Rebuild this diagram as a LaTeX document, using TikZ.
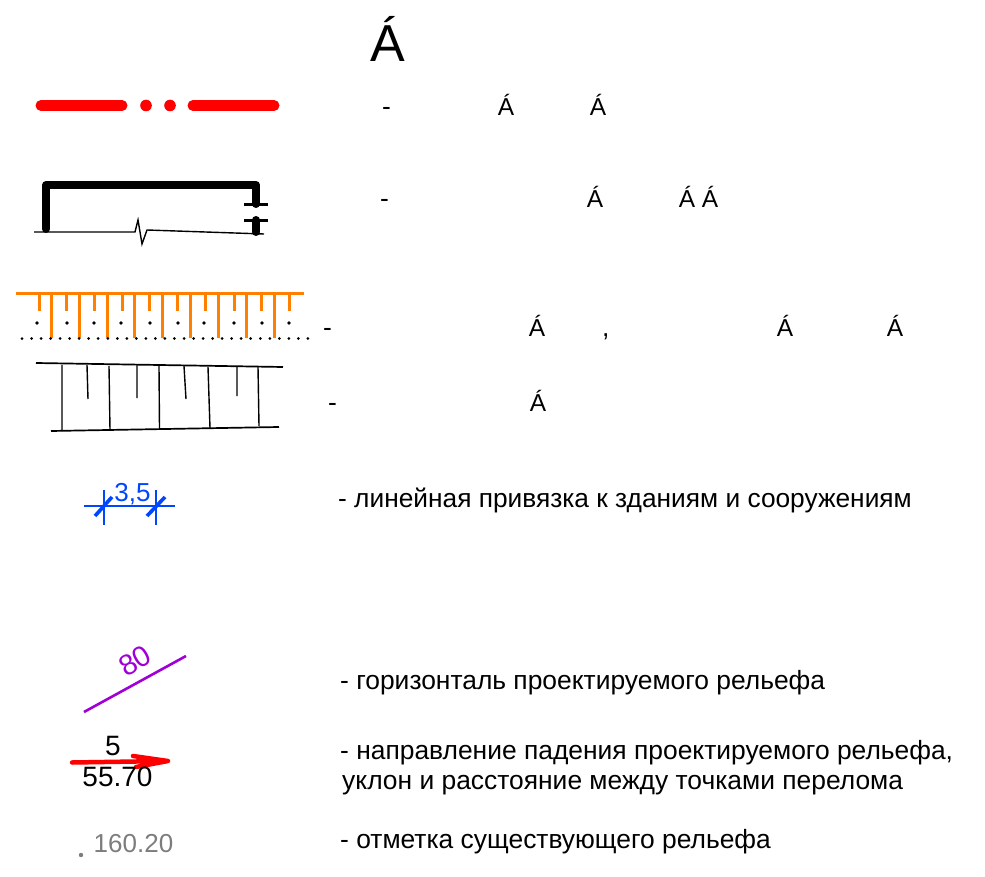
\documentclass[tikz,border=0pt]{standalone}
\usepackage{fontspec}
\setmainfont{Liberation Sans}
\definecolor{myorange}{RGB}{255,128,0}
\definecolor{myblue}{RGB}{0,70,255}
\definecolor{mypurple}{RGB}{160,0,214}
\definecolor{mygrey}{RGB}{125,125,125}
\tikzset{
 lbl/.style={anchor=base west,inner sep=0pt,font=\fontsize{26.4}{30}\selectfont},
 acc/.style={anchor=base,inner sep=0pt,font=\fontsize{24.5}{28}\selectfont},
 thin line/.style={line width=1.4pt,black},
 fat/.style={line width=8pt,black,line cap=round,line join=round},
 redfat/.style={line width=11pt,red,line cap=round},
 org/.style={line width=3pt,myorange},
 blu/.style={line width=2pt,myblue},
}
\begin{document}
\begin{tikzpicture}[x=1pt,y=-1pt]
\useasboundingbox (0,0) rectangle (985,877);
% title
\node[anchor=base,inner sep=0pt,font=\fontsize{52}{60}\selectfont] (title) at (388,62) {Á};
% row 1
\draw[redfat] (41,105.5) -- (122,105.5);
\fill[red] (146,105.5) circle (5.8) (170,105.5) circle (5.8);
\draw[redfat] (193,105.5) -- (274,105.5);
\node[lbl] (r1a) at (382,116) {-};
\node[acc] (r1b) at (506,116) {Á};
\node[acc] (r1c) at (598,116) {Á};
% row 2
\draw[fat] (46,229) -- (46,185) -- (256,185) -- (256,204);
\draw[fat,line cap=round] (256,220) -- (256,232);
\draw[line width=2.2pt] (244,204.5) -- (268,204.5) (244,220.5) -- (268,220.5);
\draw[thin line] (34,232) -- (135,232) -- (138,220) -- (142,244) -- (147,230) -- (264,234);
\node[lbl] (r2a) at (380,208) {-};
\node[acc] (r2b) at (595,208) {Á};
\node[acc] (r2c) at (687,208) {Á};
\node[acc] (r2d) at (710,208) {Á};
% row 3
\draw[org] (16,294) -- (304,294);
\foreach \x in {39,66,94,122,149,177,205,234,261,289}
  \draw[org] (\x,294) -- (\x,311);
\foreach \x in {51,79,107,134,162,190,218,246,274}
  \draw[org] (\x,294) -- (\x,338);
\foreach \x in {37,67,94,121,150,178,204,234,262,289}
  \fill (\x,323) circle (1.8);
\foreach \i in {0,...,30}
  \fill (22+\i*9.53,338.5) circle (1.5);
\node[lbl] (r3a) at (323,336) {-};
\node[acc] (r3b) at (537,336) {Á};
\node[lbl] (r3c) at (602,336) {,};
\node[acc] (r3d) at (785,336) {Á};
\node[acc] (r3e) at (895,336) {Á};
% row 4
\draw[line width=1.7pt] (36,363) -- (283,367) (51,431) -- (279,427);
\draw[thin line] (62,365) -- (62,431) (109,366) -- (110,430) (159,366) -- (159.5,429) (208,367) -- (210,428) (258,367) -- (259,426)
 (87,365) -- (88,399) (137,365) -- (137,398) (184,366) -- (186,399) (237,367) -- (237,396);
\node[lbl] (r4a) at (328,411) {-};
\node[acc] (r4b) at (538,411) {Á};
% row 5
\draw[blu] (84,505.5) -- (175,505.5) (104,490) -- (104,525) (156,490) -- (156,525);
\draw[myblue,line width=3.6pt] (95,516) -- (112,497) (147,516) -- (165,497);
\node[anchor=base,inner sep=0pt,text=myblue,font=\fontsize{26}{30}\selectfont] (d) at (132.5,501) {3,5};
\node[lbl,font=\fontsize{26.3}{30}\selectfont] (t5) at (338,507) {- линейная привязка к зданиям и сооружениям};
% row 6
\draw[mypurple,line width=2.6pt] (84,712) -- (186,656);
\node[inner sep=0pt,text=mypurple,rotate=30,font=\fontsize{29}{32}\selectfont] (h) at (135,661) {80};
\node[lbl] (t6) at (340,689) {- горизонталь проектируемого рельефа};
% row 7
\node[anchor=base,inner sep=0pt,font=\fontsize{28}{32}\selectfont] (n5) at (113,755) {5};
\draw[red,line width=4.5pt,line cap=round,line join=round] (72,762.5) -- (168,761) (133,756) -- (168,761) -- (136,767);
\node[anchor=base,inner sep=0pt,font=\fontsize{28}{32}\selectfont] (n55) at (117.5,786) {55.70};
\node[lbl] (t7) at (340,759) {- направление падения проектируемого рельефа,};
\node[lbl] (t7b) at (342,789) {уклон и расстояние между точками перелома};
% row 8
\fill[mygrey] (81,855) circle (2.2);
\node[anchor=base,inner sep=0pt,text=mygrey,font=\fontsize{26}{30}\selectfont] (g) at (133.5,852) {160.20};
\node[lbl] (t8) at (340,848) {- отметка существующего рельефа};
\end{tikzpicture}
\end{document}
